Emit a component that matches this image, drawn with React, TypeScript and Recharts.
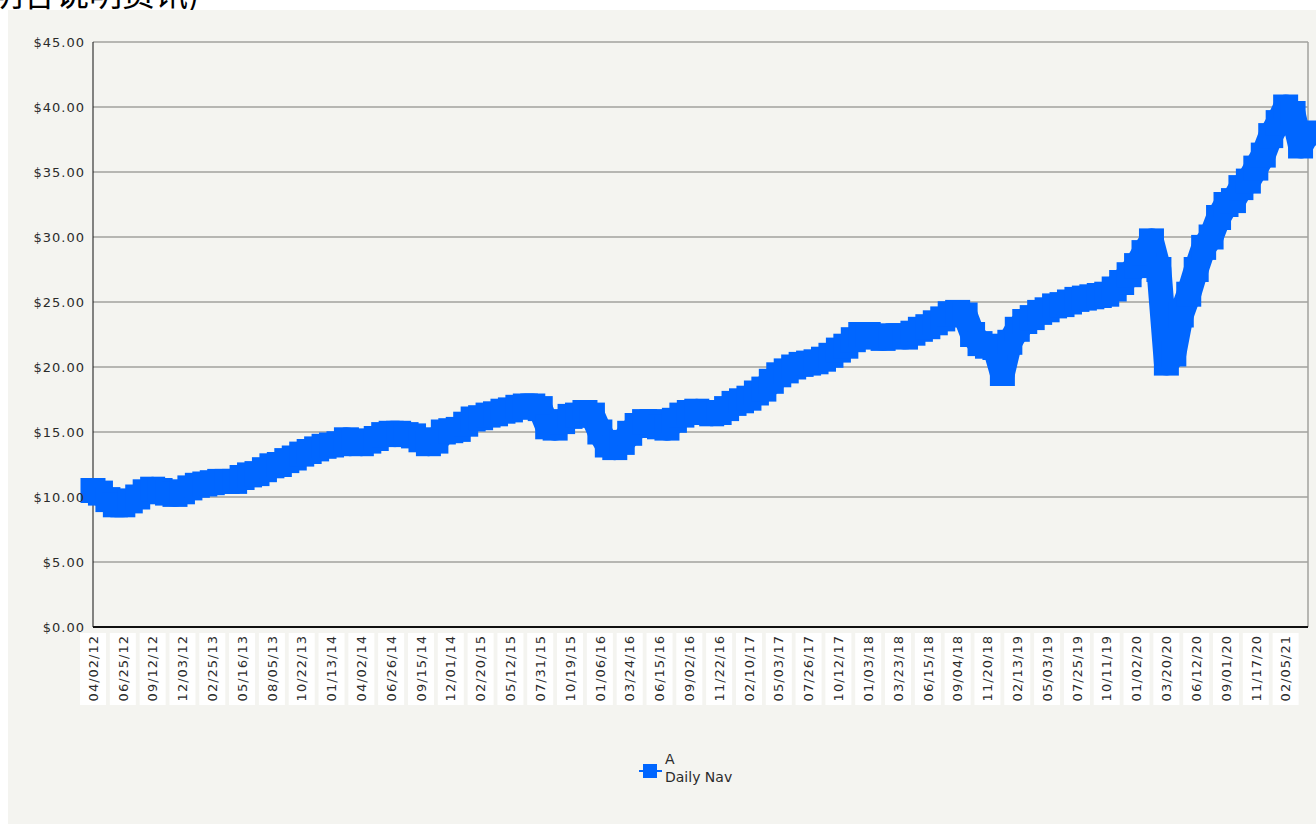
import React from 'react';
import { LineChart, Line, XAxis, YAxis, CartesianGrid, ReferenceLine } from 'recharts';

// date labels shown under the axis, one every ~55 trading days
const tickLabels = [
  '04/02/12', '06/25/12', '09/12/12', '12/03/12', '02/25/13', '05/16/13', '08/05/13',
  '10/22/13', '01/13/14', '04/02/14', '06/26/14', '09/15/14', '12/01/14', '02/20/15',
  '05/12/15', '07/31/15', '10/19/15', '01/06/16', '03/24/16', '06/15/16', '09/02/16',
  '11/22/16', '02/10/17', '05/03/17', '07/26/17', '10/12/17', '01/03/18', '03/23/18',
  '06/15/18', '09/04/18', '11/20/18', '02/13/19', '05/03/19', '07/25/19', '10/11/19',
  '01/02/20', '03/20/20', '06/12/20', '09/01/20', '11/17/20', '02/05/21',
];

const navValues = [
  10.5, 10.3, 9.8, 9.4, 9.4, 9.7, 10.0, 10.4, 10.6, 10.5,
  10.3, 10.2, 10.4, 10.7, 10.9, 11.0, 11.1, 11.2, 11.2, 11.2,
  11.5, 11.7, 11.8, 12.1, 12.4, 12.5, 12.8, 13.0, 13.3, 13.5,
  13.7, 13.9, 14.0, 14.1, 14.4, 14.3, 14.1, 14.3, 14.5, 14.8,
  14.9, 14.9, 14.8, 14.7, 14.4, 14.1, 14.3, 15.0, 15.1, 15.2,
  15.6, 16.0, 16.1, 16.3, 16.4, 16.6, 16.7, 16.9, 17.0, 17.0,
  16.8, 15.4, 15.3, 15.8, 16.2, 16.3, 16.5, 16.3, 15.0, 14.0,
  13.8, 14.2, 14.9, 15.5, 15.8, 15.8, 15.4, 15.3, 15.9, 16.3,
  16.5, 16.6, 16.5, 16.4, 16.5, 16.8, 17.2, 17.4, 17.6, 18.0,
  18.3, 18.9, 19.4, 19.7, 20.0, 20.2, 20.3, 20.4, 20.6, 20.9,
  21.3, 21.6, 22.1, 22.5, 22.5, 22.3, 22.2, 22.4, 22.4, 22.3,
  22.6, 22.9, 23.1, 23.4, 23.7, 24.1, 24.2, 24.0, 22.5, 21.8,
  21.6, 21.5, 19.5, 21.9, 22.9, 23.5, 23.8, 24.2, 24.4, 24.7,
  24.8, 25.0, 25.2, 25.3, 25.4, 25.5, 25.6, 26.0, 26.5, 27.1,
  27.8, 28.8, 29.7, 27.5, 20.3, 21.0, 24.0, 25.6, 27.5, 29.2,
  30.0, 31.5, 32.5, 32.8, 33.8, 34.3, 35.3, 36.3, 37.8, 38.8,
  40.0, 39.5, 37.0, 38.0,
];

const yTicks = [0, 5, 10, 15, 20, 25, 30, 35, 40, 45];
const pointsPerTick = 4;

const chartData = navValues.map((nav, i) => ({ t: i / pointsPerTick, nav }));
const xTicks = tickLabels.map((_, i) => i);
const xMax = (navValues.length - 1) / pointsPerTick;

const BLUE = '#0066ff';
const GRID = '#a2a29e';
const FONT = '"DejaVu Sans", Verdana, sans-serif';
const MARK = 25;

const DateTick = (props: any) => {
  const { x, y, payload } = props;
  return (
    <g transform={`translate(${x},${y})`}>
      <rect x={-13} y={6} width={26} height={72} fill="#ffffff" />
      <text
        transform="rotate(-90)"
        x={-8}
        y={0}
        dy="0.36em"
        textAnchor="end"
        fill="#2b2b2b"
        fontSize={13}
        fontFamily={FONT}
        letterSpacing={1}
      >
        {tickLabels[payload.value]}
      </text>
    </g>
  );
};

const SquareDot = (props: any) => {
  const { cx, cy, index } = props;
  if (cx == null || cy == null) return <g key={index} />;
  return <rect key={index} x={cx - MARK / 2} y={cy - MARK / 2} width={MARK} height={MARK} fill={BLUE} />;
};

export default function App() {
  return (
    <div style={{ position: 'fixed', left: 0, top: 0, width: 1316, height: 824, background: '#fff', overflow: 'hidden' }}>
      {/* heading line above the chart, mostly cut off */}
      <div style={{ position: 'absolute', left: -10, top: -24, fontSize: 33, lineHeight: '33px', fontFamily: '"Noto Sans CJK SC", sans-serif', color: '#000', whiteSpace: 'nowrap' }}>
        明各说明资讯)
      </div>
      <div style={{ position: 'absolute', left: 8, top: 10, width: 1308, height: 814, background: '#f4f4f0' }}>
        <LineChart
          width={1308}
          height={814}
          data={chartData}
          margin={{ top: 32, right: 8, left: 0, bottom: 0 }}
        >
          <CartesianGrid vertical={false} stroke={GRID} strokeWidth={1.5} />
          <XAxis
            dataKey="t"
            type="number"
            domain={[0, xMax]}
            ticks={xTicks}
            interval={0}
            height={197}
            tickSize={0}
            tickMargin={0}
            tickLine={false}
            axisLine={{ stroke: '#111', strokeWidth: 2 }}
            tick={<DateTick />}
          />
          <YAxis
            type="number"
            domain={[0, 45]}
            ticks={yTicks}
            width={85}
            tickLine={false}
            axisLine={{ stroke: '#111' }}
            tickFormatter={(v: number) => `$${v.toFixed(2)}`}
            tick={{ fill: '#2b2b2b', fontSize: 13, fontFamily: FONT, letterSpacing: 1 }}
          />
          <ReferenceLine x={xMax} stroke={GRID} strokeWidth={1.5} />
          <Line
            type="linear"
            dataKey="nav"
            stroke={BLUE}
            strokeWidth={MARK}
            strokeLinejoin="round"
            dot={SquareDot}
            activeDot={false}
            isAnimationActive={false}
          />
        </LineChart>
        {/* legend */}
        <div style={{ position: 'absolute', left: 631, top: 760, width: 23, height: 2, background: BLUE }} />
        <div style={{ position: 'absolute', left: 635, top: 754, width: 14, height: 14, background: BLUE }} />
        <div style={{ position: 'absolute', left: 657, top: 740, fontFamily: FONT, fontSize: 14, lineHeight: '18px', color: '#2b2b2b' }}>
          <div>A</div>
          <div>Daily Nav</div>
        </div>
      </div>
    </div>
  );
}
